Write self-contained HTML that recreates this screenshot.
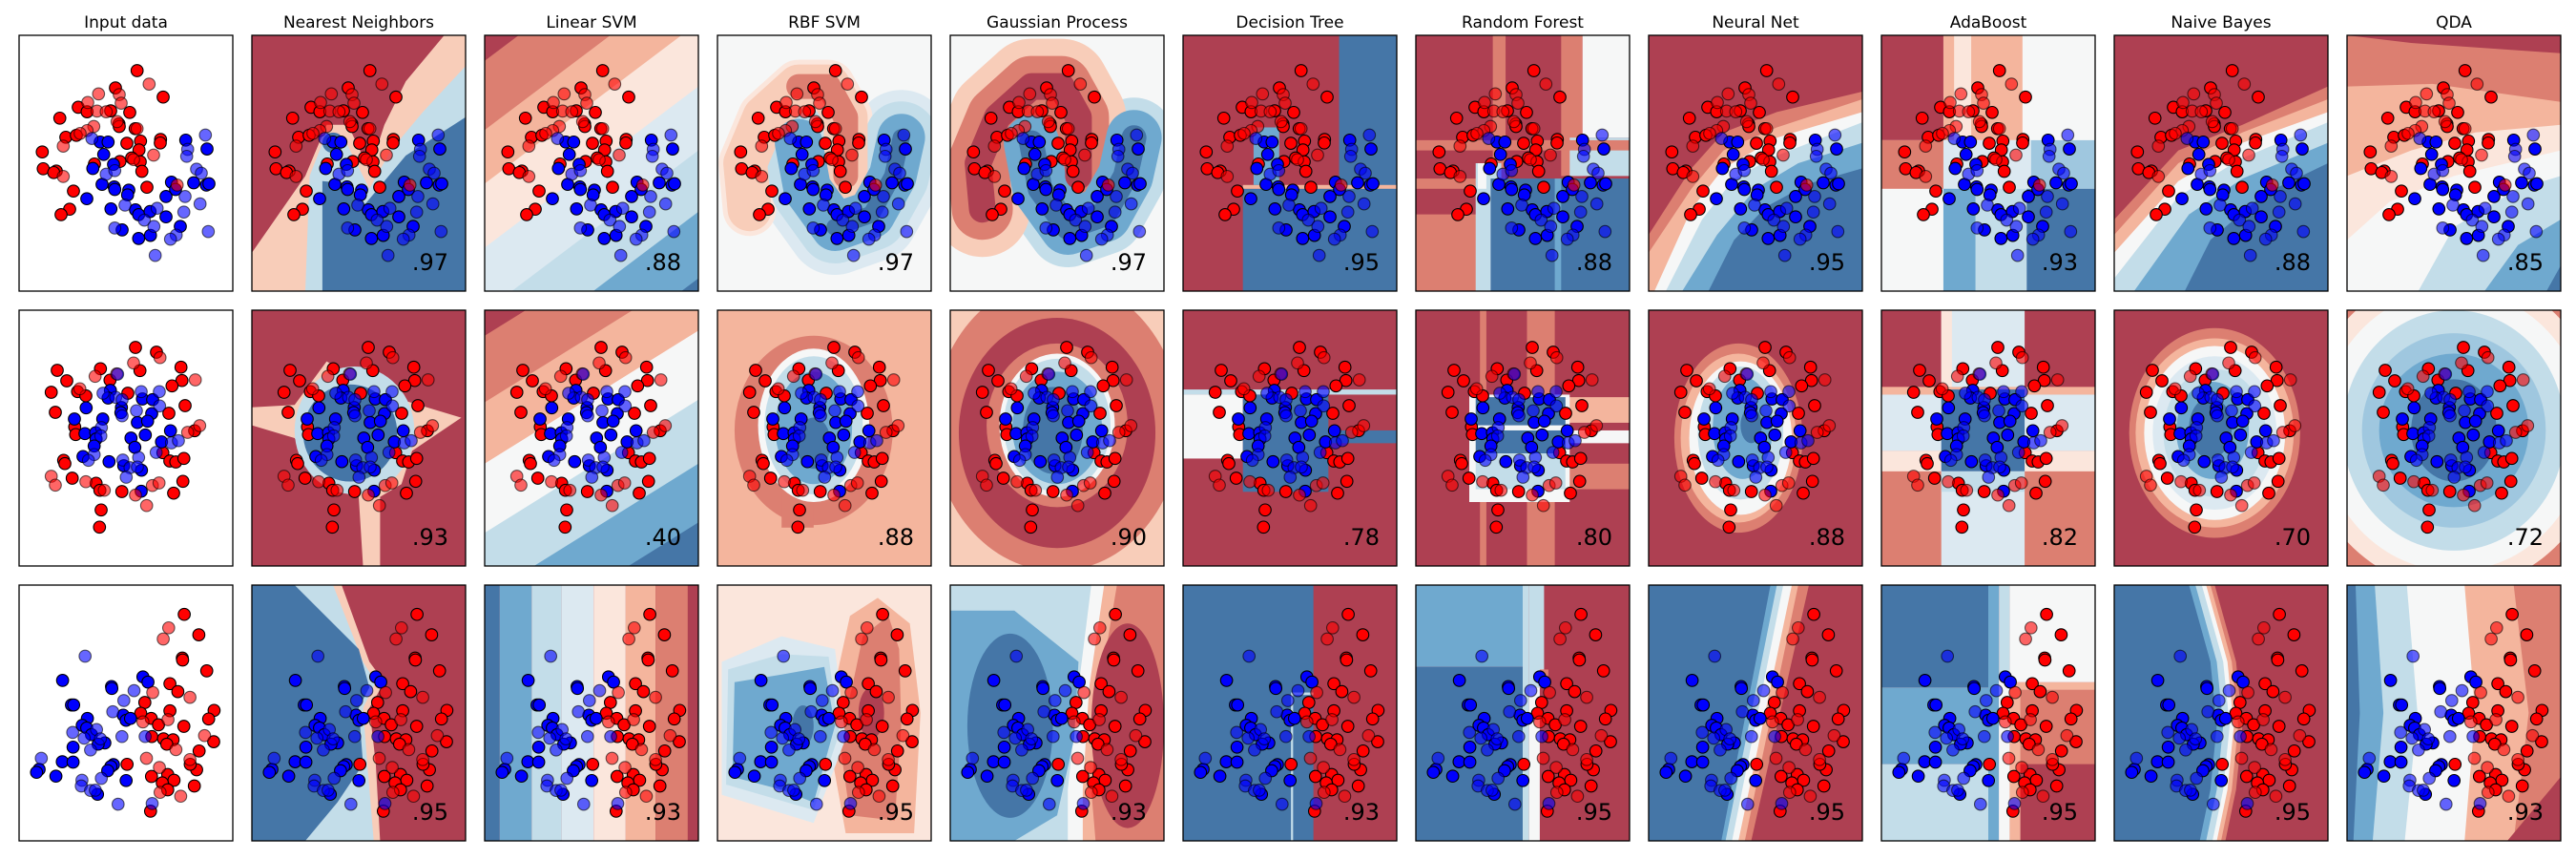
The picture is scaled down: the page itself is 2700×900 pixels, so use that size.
<!DOCTYPE html>
<html><head><meta charset="utf-8"><style>
html,body{margin:0;padding:0;background:#fff;width:2700px;height:900px;overflow:hidden;}
svg{display:block;}
text{font-family:"DejaVu Sans","Liberation Sans",sans-serif;}
</style></head>
<body>
<svg id="fig" width="2700" height="900" viewBox="0 0 2700 900" xmlns="http://www.w3.org/2000/svg"></svg>
<script>
const titles = ["Input data","Nearest Neighbors","Linear SVM","RBF SVM","Gaussian Process","Decision Tree","Random Forest","Neural Net","AdaBoost","Naive Bayes","QDA"];
const scoresMoons = [".97",".88",".97",".97",".95",".88",".95",".93",".88",".85"];
const scoresCircles = [".93",".40",".88",".90",".78",".80",".88",".82",".70",".72"];
const scoresLinear = [".95",".93",".95",".93",".93",".95",".95",".95",".95",".93"];

const moonsRedTrain = [[432,223],[514,306],[364,277],[247,338],[275,352],[349,349],[409,354],[189,372],[375,390],[376,398],[426,405],[208,432],[241,426],[443,444],[400,451],[506,439],[505,450],[134,478],[438,472],[415,497],[378,508],[298,516],[442,509],[137,531],[178,538],[170,543],[447,539],[232,601],[463,589],[220,658],[193,675]];
const moonsRedTest = [[470,265],[311,296],[376,298],[382,325],[277,323],[306,350],[335,352],[369,383],[296,398],[275,411],[253,420],[432,405],[200,460],[484,488],[421,502],[200,555],[558,582]];
const moonsBlueTrain = [[316,447],[341,447],[585,441],[652,469],[327,486],[358,517],[293,530],[322,580],[360,588],[362,596],[406,598],[402,613],[540,573],[553,596],[610,575],[650,582],[658,578],[274,625],[523,618],[350,657],[427,660],[437,675],[473,665],[523,682],[568,712],[385,723],[437,750],[474,740]];
const moonsBlueTest = [[290,436],[647,425],[591,470],[588,492],[335,548],[362,537],[619,532],[634,545],[583,618],[630,641],[394,645],[495,655],[579,667],[455,692],[485,712],[362,717],[656,728],[555,739],[537,752],[489,803]];

const circRedTrain = [[427,163],[493,178],[181,235],[317,230],[441,236],[570,225],[211,268],[347,266],[573,267],[542,284],[162,304],[245,302],[271,315],[403,307],[583,346],[175,367],[532,370],[236,413],[239,437],[613,425],[513,494],[535,520],[554,523],[579,512],[201,518],[205,528],[228,574],[303,590],[315,612],[384,616],[576,584],[547,621],[319,674],[314,728]];
const circRedTest = [[504,195],[421,212],[368,246],[300,254],[615,265],[252,293],[629,409],[591,430],[162,568],[175,596],[271,585],[329,612],[480,597],[501,589],[427,627],[462,660]];
const circBlueTrain = [[348,298],[341,322],[449,325],[481,327],[272,353],[383,352],[381,368],[478,371],[235,388],[324,388],[433,399],[465,395],[268,434],[302,431],[303,451],[297,473],[413,448],[458,438],[537,425],[509,460],[425,477],[262,506],[344,522],[390,535],[446,549],[445,615]];
const circBlueTest = [[325,307],[365,320],[385,327],[445,302],[502,302],[503,347],[430,362],[385,378],[320,415],[318,441],[540,463],[562,456],[492,493],[297,500],[279,518],[437,509],[387,517],[410,541],[433,539],[398,571],[371,247]];

const linRedTrain = [[632,190],[678,254],[626,327],[627,333],[703,367],[587,407],[612,432],[508,466],[587,492],[726,491],[495,500],[709,518],[528,516],[551,536],[631,541],[530,573],[567,580],[597,583],[577,597],[725,589],[679,618],[452,660],[671,677],[529,698],[580,692],[600,710],[563,718],[664,728],[580,740],[526,807],[651,660]];
const linRedTest = [[583,232],[566,267],[533,435],[650,450],[581,520],[502,527],[696,570],[606,614],[513,641],[650,645],[554,670],[556,748],[621,760]];
const linBlueTrain = [[502,386],[518,402],[249,397],[403,416],[404,422],[277,474],[284,474],[327,516],[440,506],[449,522],[463,516],[311,538],[325,546],[340,567],[382,593],[361,597],[282,606],[248,652],[282,653],[409,661],[401,667],[391,680],[175,676],[167,685],[228,697],[449,711],[359,754]];
const linBlueTest = [[320,321],[474,429],[442,460],[407,495],[356,551],[281,560],[317,578],[368,580],[337,615],[436,573],[509,573],[182,641],[310,710],[308,728],[371,704],[337,742],[352,741],[424,785],[531,783]];

const PW = 224, PH = 268, X0 = 20, DX = 244, ROWY = [37, 325, 613];
const R3='#ae4052',R2='#dc7f71',R1='#f4b59d',Rp='#f8cdb9',R0='#fbe6dc',W='#f6f7f7',B0='#dce9f1',B1='#c3dde9',Bm='#9fc7df',B2='#6fa9cf',B3='#4576a7';

function band(c,y0,s){return ['below',c,[[0,y0],[1,y0+s]]];}
const sLin1=-0.63, sLin2=-0.52;
const upperMoon=[[0.15,0.68],[0.13,0.5],[0.22,0.32],[0.38,0.2],[0.52,0.2],[0.6,0.32],[0.6,0.55]];
const lowerMoon=[[0.38,0.42],[0.42,0.6],[0.55,0.75],[0.72,0.7],[0.82,0.55],[0.86,0.4]];

const BG = [
 [
  [['rect',R3,0,0,1,1],['poly',Rp,[[0,0.85],[0.25,0.55],[0.35,0.35],[0.45,0.35],[0.55,0.53],[0.62,0.35],[0.72,0.18],[0.9,0],[1,0],[1,1],[0,1]]],['poly',B1,[[0.25,1],[0.27,0.55],[0.35,0.38],[0.43,0.4],[0.55,0.6],[0.65,0.45],[0.8,0.3],[1,0.12],[1,1]]],['poly',B3,[[0.33,1],[0.33,0.57],[0.45,0.58],[0.53,0.66],[0.62,0.57],[0.72,0.47],[1,0.32],[1,1]]],['ell',B3,0.38,0.42,0.05,0.04]],
  [['rect',R3,0,0,1,1],band(R2,0.1,sLin1),band(R1,0.37,sLin1),band(R0,0.58,sLin1),band(B0,0.83,sLin1),band(B1,1.08,sLin1),band(B2,1.32,sLin1),band(B3,1.58,sLin1)],
  [['rect',W,0,0,1,1],['stroke',B0,100,lowerMoon],['stroke',R0,56,upperMoon],['stroke',B1,76,lowerMoon],['stroke',Rp,46,upperMoon],['stroke',B2,50,lowerMoon],['stroke',R2,26,upperMoon.slice(3)],['stroke',B3,18,lowerMoon.slice(2)]],
  [['rect',W,0,0,1,1],['stroke',B1,84,lowerMoon],['stroke',Rp,100,upperMoon],['stroke',R2,64,upperMoon],['stroke',B2,58,lowerMoon],['stroke',R3,28,upperMoon],['stroke',B3,26,lowerMoon]],
  [['rect',R3,0,0,1,1],['rect',B3,0.73,0,1,1],['rect',B3,0.28,0.6,1,1],['rect',R1,0.28,0.585,1,0.6],['rect',B2,0.33,0.36,0.45,0.585]],
  [['rect',R3,0,0,1,1],['rect',R2,0.36,0,0.42,1],['rect',R2,0.68,0,0.78,0.55],['rect',W,0.78,0,1,0.4],['rect',B1,0.72,0.4,1,0.55],['rect',R2,0,0.41,1,0.45],['rect',R2,0,0.56,0.3,0.6],['rect',R2,0,0.7,0.3,1],['rect',B1,0.28,0.5,0.4,1],['rect',B3,0.35,0.56,1,1],['rect',B2,0.65,0.56,0.68,1],['rect',W,0.29,0.5,0.33,0.6]],
  [['rect',R3,0,0,1,1],['below',R2,[[0,0.78],[0.2,0.52],[0.35,0.38],[0.6,0.3],[1,0.22]]],['below',R1,[[0,0.85],[0.2,0.6],[0.35,0.45],[0.6,0.36],[1,0.25]]],['below',W,[[0,1.05],[0.2,0.68],[0.35,0.52],[0.6,0.4],[1,0.3]]],['below',B1,[[0.05,1.05],[0.25,0.72],[0.4,0.56],[0.6,0.47],[1,0.34]]],['below',B2,[[0.12,1.05],[0.32,0.78],[0.5,0.6],[0.7,0.5],[1,0.42]]],['below',B3,[[0.25,1.05],[0.4,0.8],[0.55,0.67],[0.75,0.58],[1,0.52]]]],
  [['rect',W,0,0,1,1],['rect',R3,0,0,0.29,0.41],['rect',R1,0.29,0,0.66,0.41],['rect',R0,0.34,0,0.42,0.41],['rect',R2,0,0.41,0.29,0.6],['rect',B0,0.29,0.41,0.7,0.6],['rect',Bm,0.7,0.41,1,0.6],['rect',B1,0.29,0.6,0.7,1],['rect',B2,0.29,0.6,0.44,1],['rect',B3,0.68,0.6,1,1]],
  [['rect',R3,0,0,1,1],['below',R2,[[0,0.72],[0.3,0.45],[0.6,0.35],[1,0.2]]],['below',R1,[[0,0.78],[0.3,0.5],[0.6,0.38],[1,0.25]]],['below',W,[[0,0.85],[0.3,0.57],[0.6,0.42],[1,0.3]]],['below',B1,[[0,0.95],[0.3,0.63],[0.6,0.48],[1,0.34]]],['below',B2,[[0.05,1.05],[0.35,0.7],[0.6,0.56],[1,0.42]]],['below',B3,[[0.3,1.05],[0.45,0.8],[0.7,0.62],[1,0.5]]]],
  [['rect',R3,0,0,1,1],['below',R2,[[0,0.0],[0.3,0.03],[1,0.07]]],['below',R1,[[0,0.2],[0.4,0.19],[1,0.26]]],['below',R0,[[0,0.55],[0.3,0.45],[0.6,0.38],[1,0.35]]],['below',W,[[0,0.8],[0.2,0.65],[0.5,0.55],[1,0.45]]],['below',B1,[[0.3,1.05],[0.5,0.75],[0.8,0.6],[1,0.55]]],['below',B2,[[0.6,1.05],[0.8,0.82],[1,0.72]]],['below',B3,[[0.9,1.05],[1,0.9]]]]
 ],
 [
  [['rect',R3,0,0,1,1],['poly',Rp,[[0,0.38],[0.2,0.37],[0.35,0.2],[0.45,0.25],[0.6,0.25],[0.7,0.35],[0.98,0.42],[0.75,0.55],[0.7,0.68],[0.6,0.73],[0.6,1],[0.52,1],[0.5,0.73],[0.3,0.65],[0.2,0.5],[0,0.45]]],['ell',B1,0.48,0.47,0.28,0.25],['ell',B3,0.46,0.48,0.22,0.19]],
  [['rect',R3,0,0,1,1],band(R2,0.1,sLin2),band(R1,0.36,sLin2),band(W,0.6,sLin2),band(B1,0.87,sLin2),band(B2,1.12,sLin2),band(B3,1.35,sLin2)],
  [['rect',R1,0,0,1,1],['ell',R2,0.45,0.47,0.37,0.37],['rect',R2,0.3,0.5,0.45,0.85],['ell',W,0.45,0.45,0.26,0.3],['ell',B1,0.45,0.45,0.23,0.27],['ell',B2,0.45,0.46,0.18,0.22],['ell',B3,0.45,0.52,0.08,0.1]],
  [['rect',Rp,0,0,1,1],['ell',R2,0.5,0.45,0.58,0.57],['ell',R3,0.5,0.48,0.46,0.45],['ell',R2,0.5,0.45,0.33,0.32],['ell',W,0.5,0.45,0.27,0.28],['ell',B1,0.5,0.45,0.25,0.26],['ell',B2,0.5,0.46,0.21,0.22],['ell',B3,0.48,0.47,0.14,0.17]],
  [['rect',R3,0,0,1,1],['rect',B1,0,0.31,1,0.33],['rect',W,0,0.33,0.28,0.58],['rect',B3,0.28,0.33,0.68,0.71],['rect',B3,0.68,0.47,1,0.52]],
  [['rect',R3,0,0,1,1],['rect',R2,0.3,0,0.33,1],['rect',R2,0.52,0,0.65,1],['rect',R1,0.65,0.34,1,0.44],['rect',W,0.7,0.47,1,0.52],['rect',R2,0.7,0.6,1,0.7],['rect',W,0.25,0.33,0.72,0.75],['rect',B3,0.28,0.34,0.7,0.45],['rect',B3,0.28,0.47,0.7,0.56],['rect',B1,0.28,0.56,0.7,0.7]],
  [['rect',R3,0,0,1,1],['ell',R2,0.42,0.5,0.3,0.37],['ell',R1,0.42,0.5,0.27,0.33],['ell',W,0.43,0.5,0.24,0.3],['ell',B1,0.43,0.48,0.2,0.26],['ell',B2,0.44,0.46,0.14,0.2],['ell',B3,0.48,0.45,0.05,0.07]],
  [['rect',R2,0,0,1,1],['rect',R3,0,0,0.28,0.3],['rect',R3,0.67,0,1,0.3],['rect',B0,0.28,0,0.67,1],['rect',R0,0.28,0,0.33,0.3],['rect',R1,0,0.3,1,0.33],['rect',B0,0,0.33,1,0.55],['rect',R0,0,0.55,1,0.63],['rect',B3,0.28,0.31,0.67,0.63],['rect',B1,0.28,0.63,0.67,0.71]],
  [['rect',R3,0,0,1,1],['ell',R2,0.47,0.48,0.4,0.41],['ell',R1,0.47,0.48,0.37,0.37],['ell',W,0.47,0.48,0.33,0.34],['ell',B0,0.47,0.48,0.29,0.3],['ell',B1,0.47,0.48,0.24,0.25],['ell',B2,0.46,0.47,0.17,0.19],['ell',B3,0.45,0.46,0.1,0.12]],
  [['rect',R2,0,0,1,1],['ell',R0,0.5,0.47,0.7,0.62],['ell',W,0.5,0.47,0.62,0.55],['ell',B1,0.5,0.47,0.52,0.47],['ell',Bm,0.5,0.47,0.43,0.38],['ell',B2,0.5,0.47,0.35,0.3],['ell',B3,0.5,0.47,0.2,0.2]]
 ],
 [
  [['rect',R3,0,0,1,1],['left',Rp,[[0.42,0],[0.55,0.3],[0.62,0.38],[0.55,0.48],[0.58,0.7],[0.6,1]]],['left',B1,[[0.38,0],[0.52,0.3],[0.58,0.38],[0.52,0.48],[0.54,0.7],[0.57,1]]],['left',B3,[[0.2,0],[0.5,0.25],[0.55,0.4],[0.5,0.48],[0.52,0.7],[0.4,0.85],[0.25,1]]]],
  [['rect',R3,0,0,1,1],['rect',B3,0,0,0.07,1],['rect',B2,0.07,0,0.22,1],['rect',B1,0.22,0,0.36,1],['rect',B0,0.36,0,0.51,1],['rect',R0,0.51,0,0.66,1],['rect',R1,0.66,0,0.8,1],['rect',R2,0.8,0,0.95,1]],
  [['rect',R0,0,0,1,1],['poly',R1,[[0.62,0.12],[0.75,0.05],[0.9,0.15],[0.95,0.5],[0.92,0.97],[0.6,0.97],[0.52,0.6],[0.56,0.35]]],['poly',R2,[[0.68,0.2],[0.8,0.12],[0.85,0.25],[0.86,0.55],[0.83,0.92],[0.62,0.9],[0.57,0.6],[0.63,0.4]]],['ell',R3,0.72,0.5,0.06,0.1],['poly',B0,[[0.02,0.3],[0.3,0.2],[0.55,0.25],[0.6,0.6],[0.45,0.93],[0.02,0.82]]],['poly',B1,[[0.05,0.33],[0.3,0.27],[0.52,0.28],[0.57,0.58],[0.45,0.88],[0.04,0.78]]],['poly',B2,[[0.08,0.38],[0.3,0.35],[0.5,0.32],[0.55,0.55],[0.45,0.85],[0.3,0.8],[0.07,0.75]]],['ell',B3,0.4,0.55,0.05,0.08]],
  [['rect',R2,0,0,1,1],['left',R1,[[0.78,0],[0.7,0.4],[0.66,0.8],[0.68,1]]],['left',W,[[0.72,0],[0.65,0.4],[0.62,0.8],[0.62,1]]],['left',B1,[[0.66,0],[0.6,0.4],[0.55,0.8],[0.55,1]]],['poly',B2,[[0,0.1],[0.3,0.1],[0.6,0.3],[0.58,0.6],[0.5,0.9],[0.3,1],[0,1]]],['ell',B3,0.28,0.55,0.2,0.36],['ell',R3,0.83,0.55,0.17,0.4]],
  [['rect',R3,0,0,1,1],['rect',B3,0,0,0.61,1],['rect',B1,0.505,0.42,0.515,1],['rect',B1,0.51,0.42,0.61,0.43]],
  [['rect',R3,0,0,1,1],['rect',B2,0,0,0.52,0.32],['rect',B3,0,0.32,0.5,1],['rect',B1,0.5,0,0.53,1],['rect',B1,0.53,0,0.6,0.4],['rect',W,0.53,0.4,0.58,1],['rect',R2,0.58,0.33,0.62,0.36]],
  [['rect',R3,0,0,1,1],['left',R2,[[0.75,0],[0.48,1]]],['left',R1,[[0.7,0],[0.45,1]]],['left',W,[[0.67,0],[0.42,1]]],['left',B1,[[0.63,0],[0.39,1]]],['left',B2,[[0.6,0],[0.36,1]]],['left',B3,[[0.57,0],[0.34,1]]]],
  [['rect',R3,0,0,1,1],['rect',W,0.6,0,1,0.38],['rect',R1,0.6,0.38,1,0.41],['rect',R2,0.6,0.41,1,0.7],['rect',B3,0,0,0.5,0.4],['rect',B2,0,0.4,0.5,0.7],['rect',B1,0,0.7,0.5,1],['rect',B2,0.5,0,0.55,1],['rect',B1,0.55,0,0.6,1],['rect',W,0.55,0.35,0.6,1],['rect',R1,0.6,0.41,0.65,1]],
  [['rect',R3,0,0,1,1],['left',R2,[[0.47,0],[0.57,0.3],[0.6,0.55],[0.57,0.8],[0.52,1]]],['left',R1,[[0.45,0],[0.55,0.3],[0.58,0.55],[0.55,0.8],[0.5,1]]],['left',W,[[0.43,0],[0.53,0.3],[0.56,0.55],[0.53,0.8],[0.48,1]]],['left',B1,[[0.41,0],[0.51,0.3],[0.54,0.55],[0.51,0.8],[0.46,1]]],['left',B2,[[0.38,0],[0.48,0.3],[0.51,0.55],[0.48,0.8],[0.43,1]]],['left',B3,[[0.35,0],[0.45,0.3],[0.48,0.55],[0.45,0.8],[0.4,1]]]],
  [['rect',R2,0,0,1,1],['left',R1,[[0.78,0],[0.85,0.5],[0.78,1]]],['left',W,[[0.55,0],[0.6,0.5],[0.55,1]]],['left',B1,[[0.28,0],[0.33,0.5],[0.27,1]]],['left',B2,[[0.13,0],[0.17,0.5],[0.12,1]]],['left',B3,[[0.04,0],[0.06,0.5],[0.03,1]]],['poly',R3,[[0.75,1],[1,0.75],[1,1]]]]
 ]
];

const datasets = [
 {dom:[61,733,112,915], rt:moonsRedTrain, re:moonsRedTest, bt:moonsBlueTrain, be:moonsBlueTest, scores:scoresMoons},
 {dom:[61,733,46,850], rt:circRedTrain, re:circRedTest, bt:circBlueTrain, be:circBlueTest, scores:scoresCircles},
 {dom:[112,785,98,900], rt:linRedTrain, re:linRedTest, bt:linBlueTrain, be:linBlueTest, scores:scoresLinear}
];

const NS = 'http://www.w3.org/2000/svg';
const svg = document.getElementById('fig');
function mk(tag, attrs, parent){const e=document.createElementNS(NS,tag);for(const k in attrs)e.setAttribute(k,attrs[k]);(parent||svg).appendChild(e);return e;}
const fx = f => f*PW, fy = f => f*PH;

// Sutherland-Hodgman clip to unit box
function clipEdge(poly, inside, inter){
  const out=[];
  for(let i=0;i<poly.length;i++){
    const a=poly[i], b=poly[(i+1)%poly.length];
    const ia=inside(a), ib=inside(b);
    if(ia){ out.push(a); if(!ib) out.push(inter(a,b)); }
    else if(ib){ out.push(inter(a,b)); }
  }
  return out;
}
function clipUnit(poly){
  const lerpX=(a,b,x)=>[x, a[1]+(b[1]-a[1])*(x-a[0])/(b[0]-a[0])];
  const lerpY=(a,b,y)=>[a[0]+(b[0]-a[0])*(y-a[1])/(b[1]-a[1]), y];
  let p=poly;
  p=clipEdge(p,q=>q[0]>=0,(a,b)=>lerpX(a,b,0)); if(!p.length) return p;
  p=clipEdge(p,q=>q[0]<=1,(a,b)=>lerpX(a,b,1)); if(!p.length) return p;
  p=clipEdge(p,q=>q[1]>=0,(a,b)=>lerpY(a,b,0)); if(!p.length) return p;
  p=clipEdge(p,q=>q[1]<=1,(a,b)=>lerpY(a,b,1));
  return p;
}
const pts = a => clipUnit(a).map(p=>fx(p[0]).toFixed(1)+','+fy(p[1]).toFixed(1)).join(' ');
const rawPts = a => a.map(p=>fx(p[0]).toFixed(1)+','+fy(p[1]).toFixed(1)).join(' ');

titles.forEach((t,c)=>{
  const e = mk('text',{x:X0+c*DX+PW/2,y:29,'text-anchor':'middle','font-size':'17',fill:'#000'});
  
  
  e.textContent = t;
});

const defs = mk('defs',{});
const cp = mk('clipPath',{id:'pclip'},defs);
mk('rect',{x:0,y:0,width:PW,height:PH},cp);

datasets.forEach((ds,r)=>{
  const [dx0,dx1,dy0,dy1] = ds.dom;
  const sx = v => (v-dx0)/(dx1-dx0)*PW;
  const sy = v => (v-dy0)/(dy1-dy0)*PH;
  for(let c=0;c<11;c++){
    const g = mk('g',{transform:`translate(${X0+c*DX},${ROWY[r]})`});
    
    
    const inner = mk('g',{'clip-path':'url(#pclip)'},g);
    if(c===0){ mk('rect',{x:0,y:0,width:PW,height:PH,fill:'#fff'},inner); }
    else {
      const bgG = mk('g',{},inner);
      
      
      BG[r][c-1].forEach(op=>{
        const t=op[0], col=op[1];
        if(t==='rect') mk('rect',{x:fx(op[2]),y:fy(op[3]),width:fx(op[4]-op[2]),height:fy(op[5]-op[3]),fill:col},bgG);
        else if(t==='poly') mk('polygon',{points:pts(op[2]),fill:col},bgG);
        else if(t==='ell') mk('ellipse',{cx:fx(op[2]),cy:fy(op[3]),rx:fx(op[4]),ry:fy(op[5]),fill:col},bgG);
        else if(t==='below') mk('polygon',{points:pts(op[2].concat([[1.5,2],[-0.5,2]])),fill:col},bgG);
        else if(t==='left') mk('polygon',{points:pts(op[2].concat([[-0.5,2],[-0.5,-1]])),fill:col},bgG);
        else if(t==='stroke') mk('polyline',{points:rawPts(op[3]),fill:'none',stroke:col,'stroke-width':op[2],'stroke-linecap':'round','stroke-linejoin':'round'},bgG);
      });
    }
    const groups = [[ds.rt,'#ff0000',1,'train-point-red'],[ds.bt,'#0000ff',1,'train-point-blue'],[ds.re,'#ff0000',0.6,'test-point-red'],[ds.be,'#0000ff',0.6,'test-point-blue']];
    groups.forEach(([arr,col,op,nm])=>{
      arr.forEach(p=>{
        const e = mk('circle',{cx:sx(p[0]).toFixed(1),cy:sy(p[1]).toFixed(1),r:6.3,fill:col,'fill-opacity':op,stroke:'#000','stroke-opacity':op,'stroke-width':1.1},inner);
        
        
      });
    });
    mk('rect',{x:0,y:0,width:PW,height:PH,fill:'none',stroke:'#000','stroke-width':1.3},g);
    if(c>0){
      const s = mk('text',{x:206,y:246,'text-anchor':'end','font-size':'24',fill:'#000'},g);
      
      
      s.textContent = ds.scores[c-1];
    }
  }
});
</script>
</body></html>
